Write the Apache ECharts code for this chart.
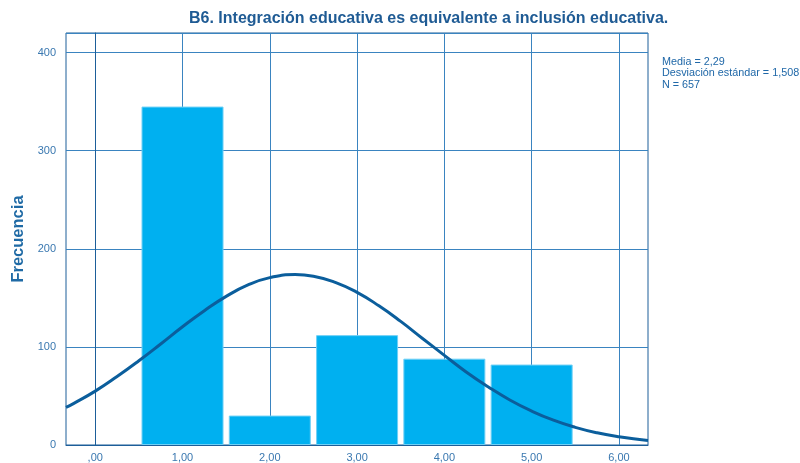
<!DOCTYPE html>
<html><head><meta charset="utf-8">
<script src="https://cdn.jsdelivr.net/npm/echarts@6/dist/echarts.min.js"></script>
<style>html,body{margin:0;padding:0;background:#fff}#c{width:800px;height:463px}</style>
</head><body><div id="c"></div>
<script>
var categories = [1, 2, 3, 4, 5];
var frequencies = [345, 30, 112, 88, 82];
var xTicks = [0, 1, 2, 3, 4, 5, 6];
var xTickLabels = [',00', '1,00', '2,00', '3,00', '4,00', '5,00', '6,00'];
var curveX = [-0.335, -0.25, 0, 0.25, 0.5, 0.75, 1, 1.25, 1.5, 1.75, 2, 2.29, 2.5, 2.75, 3, 3.25, 3.5, 3.75, 4, 4.25, 4.5, 4.75, 5, 5.25, 5.5, 5.75, 6, 6.333];
var curveY = [38.3, 42.2, 54.9, 69.8, 85.9, 103.0, 120.5, 136.9, 151.5, 163.2, 170.6, 173.8, 172.1, 165.8, 155.6, 141.9, 126.0, 108.6, 91.4, 74.5, 59.4, 45.9, 34.6, 25.3, 18.0, 12.4, 8.4, 4.7];
var statsLines = ['Media = 2,29', 'Desviación estándar = 1,508', 'N = 657'];
var titleText = 'B6. Integración educativa es equivalente a inclusión educativa.';

var chart = echarts.init(document.getElementById('c'));
chart.setOption({
  animation: false,
  title: [{
    text: titleText, left: 184, top: 6,
    textStyle: {fontFamily: 'Liberation Sans, Arial', fontSize: 16, fontWeight: 'bold', color: '#1f5b94'}
  }, {
    text: statsLines.join('\n'), left: 657, top: 51,
    textStyle: {fontFamily: 'Liberation Sans, Arial', fontSize: 10.8, fontWeight: 'normal', color: '#2068a8', lineHeight: 11.5}
  }],
  grid: {left: 66, right: 152, top: 33, bottom: 17, show: true, borderColor: '#1d5e99', borderWidth: 1},
  xAxis: {
    type: 'value', min: -0.335, max: 6.333,
    axisLine: {show: true, lineStyle: {color: '#1d5e99'}},
    axisTick: {show: false, customValues: xTicks},
    axisLabel: {customValues: xTicks, formatter: function (v) { return xTickLabels[xTicks.indexOf(Math.round(v))] || ''; },
      color: '#3a78b0', fontFamily: 'Liberation Sans, Arial', fontSize: 11, margin: 7},
    splitLine: {show: true, lineStyle: {color: '#3a84c0', width: 1}}
  },
  yAxis: {
    type: 'value', min: 0, max: 420, interval: 100,
    name: 'Frecuencia', nameLocation: 'middle', nameGap: 38,
    nameTextStyle: {fontFamily: 'Liberation Sans, Arial', fontSize: 16.5, fontWeight: 'bold', color: '#1f6aa5'},
    axisLine: {show: true, lineStyle: {color: '#1d5e99'}},
    axisTick: {show: false},
    axisLabel: {formatter: function (v) { return v % 100 === 0 ? String(v) : ''; }, color: '#3a78b0', fontFamily: 'Liberation Sans, Arial', fontSize: 11, margin: 10},
    splitLine: {show: true, lineStyle: {color: '#3a84c0', width: 1}}
  },
  series: [{
    type: 'bar',
    data: categories.map(function (c, i) { return [c, frequencies[i]]; }),
    barWidth: 82,
    itemStyle: {color: '#00b0f0', borderColor: '#6fd0f6', borderWidth: 1},
    z: 2
  }, {
    type: 'line', smooth: true, showSymbol: false, clip: true,
    data: curveX.map(function (x, i) { return [x, curveY[i]]; }),
    lineStyle: {color: '#0b5e9c', width: 3},
    z: 3
  }]
});
</script></body></html>
